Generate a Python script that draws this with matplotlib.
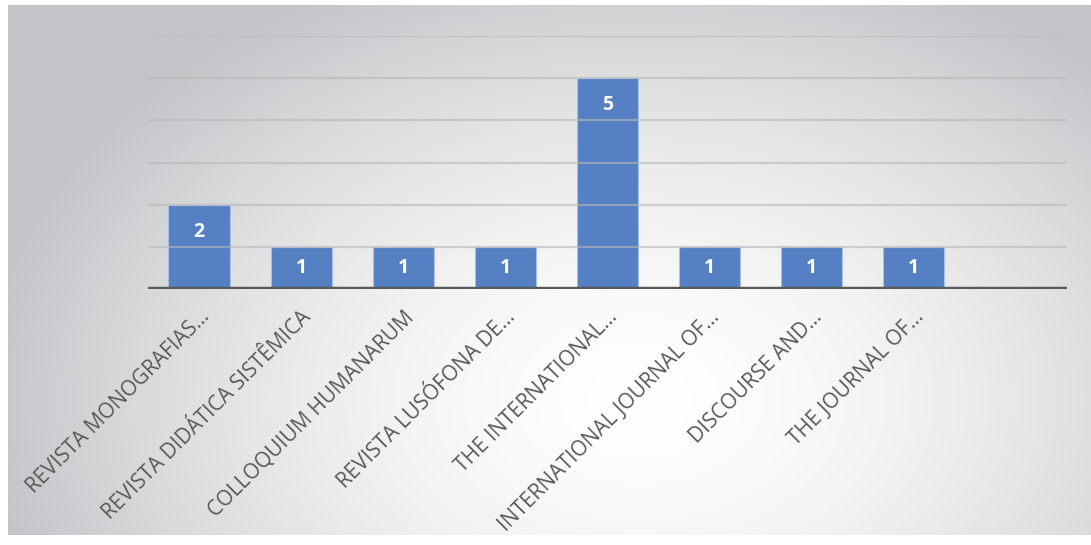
import numpy as np
import matplotlib.pyplot as plt
from matplotlib.transforms import ScaledTranslation

# data
journals = ["REVISTA MONOGRAFIAS…", "REVISTA DIDÁTICA SISTÊMICA",
            "COLLOQUIUM HUMANARUM", "REVISTA LUSÓFONA DE…",
            "THE INTERNATIONAL…", "INTERNATIONAL JOURNAL OF…",
            "DISCOURSE AND…", "THE JOURNAL OF…", ""]
counts = [2, 1, 1, 1, 5, 1, 1, 1, None]
y_ticks = [0, 1, 2, 3, 4, 5, 6]

BAR = "#5580c4"
TXT = "#595959"

W, H = 1091, 545
fig = plt.figure(figsize=(W / 100, H / 100), dpi=100)
fig.patch.set_facecolor("white")

# chart area background: radial grey gradient
bg = fig.add_axes([8 / W, 1 - 535 / H, (W - 8) / W, 530 / H])
bg.axis("off")
gx, gy = np.meshgrid(np.linspace(8, W, 400), np.linspace(5, 535, 200))
r = np.sqrt(((gx - 640) / 660) ** 2 + ((gy - 400) / 460) ** 2)
t = np.clip(r, 0, 1) ** 1.6
c0 = np.array([1.0, 1.0, 1.0])
c1 = np.array([0xc4, 0xc5, 0xc8]) / 255
img = c0[None, None, :] * (1 - t[..., None]) + c1[None, None, :] * t[..., None]
bg.imshow(img, aspect="auto", extent=[0, 1, 0, 1], interpolation="bilinear")
bg.set_xlim(0, 1)
bg.set_ylim(0, 1)

ax = fig.add_axes([148 / W, 1 - 289 / H, (1067 - 148) / W, (289 - 36) / H])
ax.patch.set_alpha(0)
x = np.arange(len(journals))
vals = [v if v is not None else 0 for v in counts]
bars = ax.bar(x, vals, width=0.6, color=BAR, edgecolor="#a9c0e6",
              linewidth=0.8, zorder=2)

ax.set_xlim(-0.5, len(journals) - 0.5)
ax.set_ylim(0, 6)
for yv in y_ticks[1:]:
    ax.axhline(yv, color="#b8b8b8", lw=1.6, alpha=0.6, zorder=3)
ax.axhline(0, color=TXT, lw=3.2, zorder=4)

for s in ax.spines.values():
    s.set_visible(False)
ax.set_yticks([])
ax.set_xticks(x)
ax.set_xticklabels([])
ax.tick_params(length=0)

off = ScaledTranslation(7 / 100, -25 / 100, fig.dpi_scale_trans)
for xi, lab in zip(x, journals):
    ax.text(xi, 0, lab, rotation=45, rotation_mode="anchor", ha="right",
            va="center", fontsize=15, color=TXT, family="Open Sans",
            transform=ax.transData + off)

# value labels near the top of each bar
for xi, v in zip(x, counts):
    if v is None:
        continue
    ly = max(v - 0.64, v / 2)
    ax.text(xi, ly, str(v), ha="center", va="center", fontsize=14,
            fontweight="bold", color="white", family="Open Sans", zorder=5)

fig.savefig("out.png", dpi=100)
